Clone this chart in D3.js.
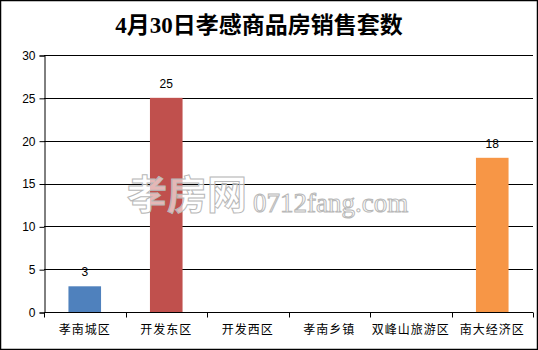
<!DOCTYPE html>
<html>
<head>
<meta charset="utf-8">
<script src="https://cdn.jsdelivr.net/npm/d3@7"></script>
<style>
  body { margin: 0; background: #fff; }
  svg { display: block; }
</style>
</head>
<body>
<div id="chart"></div>
<script>
  // Data
  const title = '4月30日孝感商品房销售套数';
  const districts = ['孝南城区', '开发东区', '开发西区', '孝南乡镇', '双峰山旅游区', '南大经济区'];
  const sales = [3, 25, 0, 0, 0, 18];
  const yTicks = [0, 5, 10, 15, 20, 25, 30];
  const palette = ['#4F81BD', '#C0504D', '#9BBB59', '#8064A2', '#4BACC6', '#F79646'];

  const W = 538, H = 350;
  const plot = { left: 44, right: 533, top: 55, bottom: 312 };

  const svg = d3.select('#chart')
                .append('svg')
                .attr('width', W)
                .attr('height', H);

  // outer frame
  svg.append('rect')
     .attr('x', 0.5).attr('y', 0.5)
     .attr('width', W - 1).attr('height', H - 1)
     .attr('fill', '#fff')
     .attr('stroke', '#000')
     .attr('stroke-width', 1.5);

  svg.append('text')
     .attr('x', 259).attr('y', 33)
     .attr('text-anchor', 'middle')
     .style('font-family', '"Liberation Serif", "Noto Sans CJK SC", serif')
     .style('font-weight', 'bold')
     .style('font-size', '23px')
     .text(title);

  const x = d3.scaleBand()
              .domain(districts)
              .range([plot.left, plot.right])
              .paddingInner(0.6)
              .paddingOuter(0.3);

  const y = d3.scaleLinear()
              .domain([0, 30])
              .range([plot.bottom, plot.top]);

  // grid lines
  svg.append('g')
     .selectAll('line')
     .data(yTicks.filter(t => t > 0))
     .enter()
     .append('line')
     .attr('x1', plot.left).attr('x2', plot.right)
     .attr('y1', d => Math.round(y(d)) + 0.5)
     .attr('y2', d => Math.round(y(d)) + 0.5)
     .attr('stroke', '#000');

  // y axis
  const yAxis = svg.append('g')
     .attr('transform', `translate(${plot.left + 0.5},0.5)`)
     .call(d3.axisLeft(y).tickValues(yTicks).tickSize(5).tickPadding(4).tickFormat(d3.format('d')));
  yAxis.select('.domain').attr('stroke', '#000');
  yAxis.selectAll('line').attr('stroke', '#000');
  yAxis.selectAll('text')
       .style('font-family', '"Liberation Sans", sans-serif')
       .style('font-size', '12px')
       .attr('fill', '#000');

  // bars
  svg.append('g')
     .selectAll('rect')
     .data(sales)
     .enter()
     .append('rect')
     .attr('x', (d, i) => x(districts[i]))
     .attr('y', d => y(d))
     .attr('width', x.bandwidth())
     .attr('height', d => y(0) - y(d))
     .attr('fill', (d, i) => palette[i]);

  // value labels (zeros are left blank)
  svg.append('g')
     .selectAll('text')
     .data(sales.map((v, i) => ({ v, name: districts[i] })).filter(d => d.v > 0))
     .enter()
     .append('text')
     .attr('x', d => x(d.name) + x.bandwidth() / 2)
     .attr('y', d => y(d.v) - 10)
     .attr('text-anchor', 'middle')
     .style('font-family', '"Liberation Sans", sans-serif')
     .style('font-size', '12px')
     .text(d => d.v);

  // x axis
  const xAxis = svg.append('g')
     .attr('transform', `translate(0,${plot.bottom + 0.5})`);
  xAxis.append('line')
       .attr('x1', plot.left).attr('x2', plot.right)
       .attr('stroke', '#000');
  const edges = d3.range(districts.length + 1).map(i => plot.left + i * (plot.right - plot.left) / districts.length);
  xAxis.selectAll('.tick')
       .data(edges)
       .enter()
       .append('line')
       .attr('x1', d => Math.round(d) + 0.5).attr('x2', d => Math.round(d) + 0.5)
       .attr('y1', 0).attr('y2', 5)
       .attr('stroke', '#000');
  xAxis.selectAll('text')
       .data(districts)
       .enter()
       .append('text')
       .attr('x', d => x(d) + x.bandwidth() / 2)
       .attr('y', 21)
       .attr('text-anchor', 'middle')
       .style('font-family', '"Noto Sans CJK SC", sans-serif')
       .style('font-size', '12px')
       .style('letter-spacing', '1px')
       .text(d => d);

  // watermark
  const wm = svg.append('g')
     .attr('fill', '#fff')
     .attr('fill-opacity', 0.6)
     .attr('stroke', '#b8b8b8')
     .attr('stroke-width', 1);
  wm.append('text')
    .attr('x', 127).attr('y', 209)
    .style('font-family', '"Noto Sans CJK SC", sans-serif')
    .style('font-size', '40px')
    .style('font-weight', 'bold')
    .text('孝房网');
  wm.append('text')
    .attr('x', 253).attr('y', 212)
    .style('font-family', '"Liberation Serif", serif')
    .style('font-size', '27px')
    .text('0712fang.com');
</script>
</body>
</html>
